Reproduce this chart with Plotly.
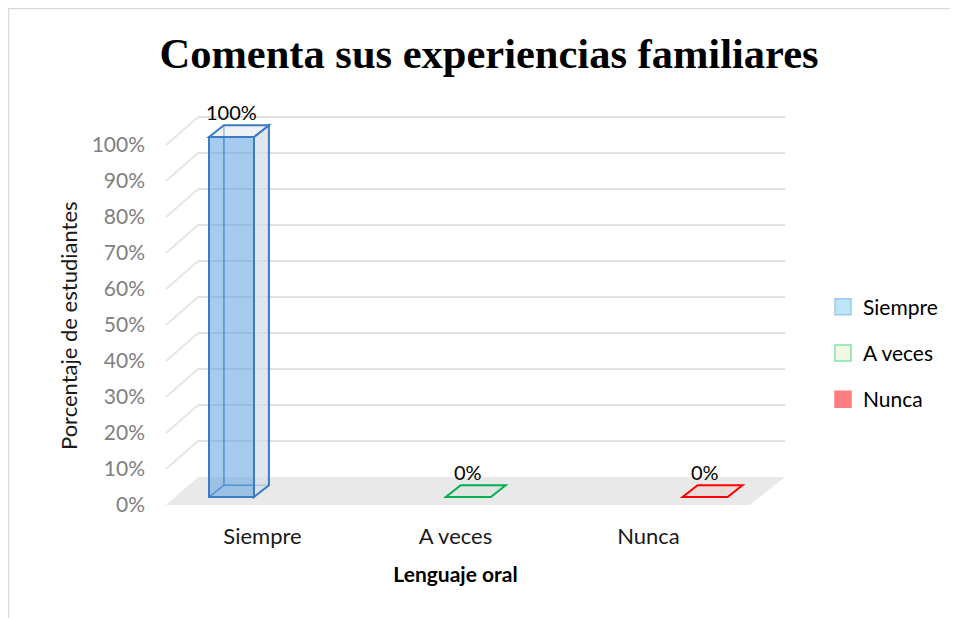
import plotly.graph_objects as go

# datos del grafico
categorias = ['Siempre', 'A veces', 'Nunca']
porcentajes = [1.0, 0.0, 0.0]
ticks_y = [0, 0.1, 0.2, 0.3, 0.4, 0.5, 0.6, 0.7, 0.8, 0.9, 1.0]

# colores (caras de las barras y leyenda)
borde = ['#3a7cc3', '#00b050', '#ff0000']
cara = ['rgba(95,160,225,0.55)', 'rgba(0,176,80,0.04)', 'rgba(255,0,0,0.06)']
lado = ['rgba(214,222,232,0.75)', 'rgba(0,176,80,0.04)', 'rgba(255,0,0,0.06)']
tapa = ['rgba(226,232,240,0.6)', 'rgba(0,176,80,0.04)', 'rgba(255,0,0,0.06)']
ley_fill = ['#bde5f8', '#f2f8e4', '#ff7c80']
ley_line = ['#9dc8ee', '#7fe5a8', '#ff7c80']

FONT = 'Lato'

# area de trazado (pixeles de la figura)
L, T, R, B = 158, 92, 777, 497
PW, PH = R - L, B - T

# geometria pseudo-3D (en unidades de los ejes)
W = 0.19          # ancho de barra
BASE = 0.022      # la barra se apoya a mitad del piso
DX, DY = 0.063, 0.033     # profundidad de la barra
FDX, FDY = 0.0517, 0.078  # profundidad del piso/paredes (x en dominio)


def path(pts):
    return 'M ' + ' L '.join('%f,%f' % p for p in pts) + ' Z'


shapes = []

# piso
shapes.append(dict(type='path', xref='x domain', yref='y', layer='below',
                   path=path([(0, 0), (0.9435, 0), (1, FDY), (FDX, FDY)]),
                   fillcolor='#e9e9e9', line=dict(width=0)))

# lineas de cuadricula: pared del fondo y pared izquierda
for v in ticks_y[1:]:
    shapes.append(dict(type='line', xref='x domain', yref='y', layer='below',
                       x0=FDX, x1=1, y0=v + FDY, y1=v + FDY,
                       line=dict(color='#e0e0e0', width=2)))
    shapes.append(dict(type='line', xref='x domain', yref='y', layer='below',
                       x0=0, x1=FDX, y0=v, y1=v + FDY,
                       line=dict(color='#e6e6e6', width=2)))

# caras laterales, superiores y aristas traseras de cada barra
for i, v in enumerate(porcentajes):
    xl, xr = i - W / 2, i + W / 2
    b, t = BASE, BASE + v
    ln = dict(color=borde[i], width=2)
    if v > 0:
        # aristas traseras (se ven a traves de la cara frontal)
        shapes.append(dict(type='path', xref='x', yref='y', layer='below',
                           path='M %f,%f L %f,%f L %f,%f M %f,%f L %f,%f' % (
                               xl, b, xl + DX, b + DY, xr + DX, b + DY,
                               xl + DX, b + DY, xl + DX, t + DY),
                           line=dict(color=borde[i], width=1.5)))
        # cara lateral derecha
        shapes.append(dict(type='path', xref='x', yref='y', layer='below',
                           path=path([(xr, b), (xr + DX, b + DY), (xr + DX, t + DY), (xr, t)]),
                           fillcolor=lado[i], line=ln))
    # cara superior
    shapes.append(dict(type='path', xref='x', yref='y', layer='above',
                       path=path([(xl, t), (xr, t), (xr + DX, t + DY), (xl + DX, t + DY)]),
                       fillcolor=tapa[i], line=ln))

# marco del grafico (borde izquierdo y superior de la figura)
shapes.append(dict(type='rect', xref='paper', yref='paper',
                   x0=(0 - L) / PW, x1=1.5, y0=-0.5, y1=(B - 0) / PH,
                   line=dict(color='#d9d9d9', width=2.5)))

fig = go.Figure()

# caras frontales
for i, v in enumerate(porcentajes):
    if v > 0:
        fig.add_trace(go.Bar(x=[i], y=[v], base=BASE, width=W,
                             marker=dict(color=cara[i], line=dict(color=borde[i], width=2)),
                             showlegend=False, hoverinfo='skip'))

# entradas de la leyenda
for i, c in enumerate(categorias):
    fig.add_trace(go.Scatter(x=[None], y=[None], name=c, xaxis='x2', legendgroup=c,
                             mode='markers',
                             marker=dict(symbol='square', size=16, color=ley_fill[i],
                                         line=dict(color=ley_line[i], width=1.5))))

# etiquetas de datos
annotations = []
for i, v in enumerate(porcentajes):
    annotations.append(dict(x=i, y=BASE + v + DY, xref='x', yref='y', yanchor='bottom',
                            text='{:.0%}'.format(v), showarrow=False, yshift=-1,
                            font=dict(family=FONT, size=20, color='#000000')))

# titulo del eje vertical
annotations.append(dict(x=(60 - L) / PW, y=(B - 317) / PH, xref='paper', yref='paper',
                        xanchor='center', yanchor='middle',
                        text='Porcentaje de estudiantes', textangle=-90, showarrow=False,
                        font=dict(family=FONT, size=22, color='#1a1a1a')))

fig.update_layout(
    width=958, height=618,
    margin=dict(l=L, r=958 - R, t=T, b=618 - B),
    paper_bgcolor='white', plot_bgcolor='rgba(0,0,0,0)',
    title=dict(text='<b>Comenta sus experiencias familiares</b>', x=481 / 958, xanchor='center',
               y=1 - 45 / 618, yanchor='middle',
               font=dict(family='Liberation Serif', size=42.5, color='#000000')),
    xaxis=dict(range=[-0.2766, 2.3374], showgrid=False, zeroline=False,
               showticklabels=False, fixedrange=True),
    xaxis2=dict(domain=[0, 0.9354], anchor='y', range=[-0.5, 2.5],
                tickmode='array', tickvals=[0, 1, 2], ticktext=categorias,
                showgrid=False, zeroline=False, ticklabelstandoff=16,
                tickfont=dict(family=FONT, size=22, color='#1a1a1a'),
                title=dict(text='<b>Lenguaje oral</b>', standoff=19,
                           font=dict(family=FONT, size=21, color='#000000'))),
    yaxis=dict(range=[0, 1.125], tickmode='array', tickvals=ticks_y, tickformat='.0%',
               showgrid=False, zeroline=False, ticklabelstandoff=20,
               tickfont=dict(family=FONT, size=21, color='#808080')),
    legend=dict(x=(815 - L) / PW, xanchor='left', y=(B - 345) / PH, yanchor='middle',
                tracegroupgap=16, itemsizing='trace',
                font=dict(family=FONT, size=21, color='#000000')),
    shapes=shapes,
    annotations=annotations,
    bargap=0,
)

fig.write_html('out.html')
